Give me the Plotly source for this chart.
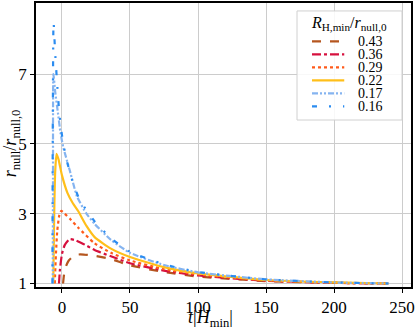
import plotly.graph_objects as go

# R_H,min / r_null,0 values for each curve
ratios = ["0.43", "0.36", "0.29", "0.22", "0.17", "0.16"]

# time |H_min| and r_null / r_null,0
t_043 = [0.8, 1.5, 3, 5, 8, 12, 16, 25, 36, 50, 75, 100, 150, 200, 240]
r_043 = [1.0, 1.25, 1.5, 1.66, 1.77, 1.83, 1.83, 1.79, 1.7, 1.52, 1.33, 1.2, 1.07, 1.02, 1.0]

t_036 = [-2.2, -1.5, 0, 2, 5.5, 9, 15, 24, 36, 50, 75, 100, 150, 200, 240]
r_036 = [1.0, 1.4, 1.85, 2.1, 2.27, 2.25, 2.15, 1.96, 1.78, 1.58, 1.37, 1.23, 1.08, 1.02, 1.0]

t_029 = [-5.3, -4.5, -3.5, -2, -0.5, 2, 6, 12, 24, 36, 50, 75, 100, 150, 200, 240]
r_029 = [1.0, 1.8, 2.5, 2.95, 3.08, 3.0, 2.85, 2.6, 2.15, 1.88, 1.66, 1.41, 1.26, 1.09, 1.02, 1.0]

t_022 = [-6.4, -5.8, -5, -4, -2.5, 0, 4, 8, 12, 18, 24, 36, 50, 75, 100, 150, 200, 240]
r_022 = [1.0, 2.8, 4.2, 4.72, 4.55, 4.1, 3.6, 3.3, 3.07, 2.65, 2.33, 2.0, 1.76, 1.47, 1.29, 1.1, 1.03, 1.0]

t_017 = [-6.8, -6.6, -6.3, -5, -3, -1, 1, 5.8, 11, 18, 24, 36, 50, 75, 100, 150, 200, 240]
r_017 = [1.0, 4.0, 7.0, 6.5, 5.9, 5.3, 4.9, 4.23, 3.5, 3.0, 2.71, 2.25, 1.88, 1.53, 1.32, 1.12, 1.03, 1.0]

t_016 = [-7.0, -6.8, -6.2, -5, -3.5, -2, 0, 3, 8, 13, 24, 36, 50, 75, 100, 150, 200, 240]
r_016 = [1.0, 5.0, 8.5, 7.6, 6.7, 5.9, 5.25, 4.6, 3.9, 3.4, 2.78, 2.3, 1.91, 1.55, 1.33, 1.12, 1.03, 1.0]

series = [
    (t_043, r_043, "#b5561f", "dash"),
    (t_036, r_036, "#d6103e", "dashdot"),
    (t_029, r_029, "#ff5a1a", "dot"),
    (t_022, r_022, "#ffbf1a", "solid"),
    (t_017, r_017, "#85b4f0", "6px,2px,2px,2px,2px,2px"),
    (t_016, r_016, "#2b8cf0", "5px,12px,2px,12px"),
]

serif = "Liberation Serif, DejaVu Serif, serif"

fig = go.Figure()
for name, (t, r, col, dash) in zip(ratios, series):
    fig.add_trace(go.Scatter(
        x=t, y=r, mode="lines", name=name, showlegend=False,
        line=dict(color=col, width=2.2, dash=dash, shape="spline", smoothing=0.5),
    ))


def note(x, y, text, size, **kw):
    fig.add_annotation(xref="paper", yref="paper", x=x, y=y, text=text,
                       showarrow=False, xanchor=kw.pop("xanchor", "center"),
                       yanchor="middle", font=dict(size=size), **kw)


# hand-drawn legend box in the upper right (paper coords)
fig.add_shape(type="rect", xref="paper", yref="paper",
              x0=0.696, x1=0.976, y0=0.588, y1=0.972,
              line=dict(color="#d0d0d0", width=1), fillcolor="rgba(255,255,255,0.85)")
note(0.835, 0.928, "<i>R</i><sub>H,min</sub>/<i>r</i><sub>null,0</sub>", 16)
y0 = 0.865
for i, (name, (t, r, col, dash)) in enumerate(zip(ratios, series)):
    yy = y0 - i * 0.0458
    fig.add_shape(type="line", xref="paper", yref="paper",
                  x0=0.736, x1=0.822, y0=yy, y1=yy,
                  line=dict(color=col, width=2.2, dash=dash))
    note(0.853, yy, name, 14, xanchor="left")

# axis titles
note(0.464, -0.112, "<i>t</i>|<i>H</i><sub>min</sub>|", 18)
note(-0.066, 0.507, "<i>r</i><sub>null</sub>/<i>r</i><sub>null,0</sub>", 18, textangle=-90)

fig.update_layout(
    width=417, height=330,
    margin=dict(l=36, r=6, t=3, b=43),
    plot_bgcolor="white", paper_bgcolor="white",
    font=dict(family=serif, size=17, color="black"),
    showlegend=False,
)

fig.update_xaxes(
    range=[-19.1, 256.6], tickvals=[0, 50, 100, 150, 200, 250],
    showgrid=True, gridcolor="#cccccc", gridwidth=1, zeroline=False,
    showline=True, linecolor="black", linewidth=1.5, mirror=True,
    ticks="outside", ticklen=4, tickcolor="black", automargin=False,
)
fig.update_yaxes(
    range=[0.9, 9.04], tickvals=[1, 3, 5, 7],
    showgrid=True, gridcolor="#cccccc", gridwidth=1, zeroline=False,
    showline=True, linecolor="black", linewidth=1.5, mirror=True,
    ticks="outside", ticklen=4, tickcolor="black", automargin=False,
)

# the page's default body margin would shift the figure by 8px
fig.write_html("out.html", config={"displayModeBar": False},
               post_script="document.body.style.margin='0';")
